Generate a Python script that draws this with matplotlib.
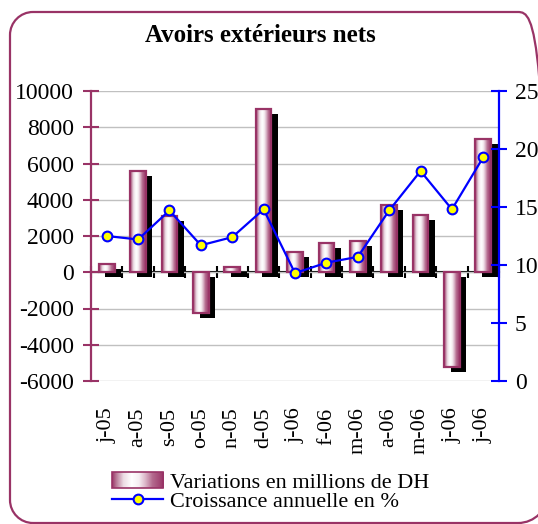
import numpy as np
import matplotlib
matplotlib.use("Agg")
import matplotlib.pyplot as plt
from matplotlib.colors import LinearSegmentedColormap
from matplotlib.transforms import ScaledTranslation, Bbox, TransformedBbox
from matplotlib.patches import Rectangle, PathPatch
from matplotlib.path import Path
from matplotlib.lines import Line2D
from matplotlib.image import BboxImage
from matplotlib.legend_handler import HandlerBase

categories = ["j-05", "a-05", "s-05", "o-05", "n-05", "d-05", "j-06",
              "f-06", "m-06", "a-06", "m-06", "j-06", "j-06"]
variations = [450, 5600, 3100, -2250, 300, 9000, 1100,
              1630, 1740, 3730, 3175, -5250, 7350]
croissance = [12.5, 12.2, 14.7, 11.7, 12.4, 14.8, 9.3,
              10.2, 10.7, 14.7, 18.1, 14.8, 19.3]
left_ticks = [-6000, -4000, -2000, 0, 2000, 4000, 6000, 8000, 10000]
right_ticks = [0, 5, 10, 15, 20, 25]

MAROON = "#993366"
BLUE = "#0000ff"
plt.rcParams["font.family"] = ["Liberation Serif", "DejaVu Serif"]

cmap = LinearSegmentedColormap.from_list(
    "bar", [(0.0, MAROON), (0.08, "#b87896"), (0.22, "#ecdce4"),
            (0.38, "#ffffff"), (0.52, "#f6eef2"), (0.64, "#dcb8ca"),
            (0.78, "#b46a8e"), (1.0, MAROON)])
grad = np.linspace(0, 1, 256).reshape(1, -1)

W, H = 538, 524
fig = plt.figure(figsize=(W/100, H/100), dpi=100)
ax = fig.add_axes([91/W, 1-381/H, (499-91)/W, (381-91)/H])

x = np.arange(len(categories))
w = 0.5

# shadows
shadows = ax.bar(x, variations, width=w, color="black", zorder=2, linewidth=0)
off = ScaledTranslation(0.065, -0.05, fig.dpi_scale_trans)
for p in shadows:
    p.set_transform(ax.transData + off)

# gradient bars
bars = ax.bar(x, variations, width=w, facecolor="none", edgecolor=MAROON,
              linewidth=1.6, zorder=4)
for p in bars:
    x0 = p.get_x(); bw = p.get_width(); h = p.get_height(); y0 = p.get_y()
    ax.imshow(grad, cmap=cmap, aspect="auto", zorder=3,
              extent=(x0, x0 + bw, min(y0, y0 + h), max(y0, y0 + h)),
              interpolation="bilinear")

ax.set_xlim(-0.5, len(categories) - 0.5)
ax.set_ylim(-6000, 10000)
ax.set_yticks(left_ticks)
ax.set_yticklabels([str(v) for v in left_ticks])
ax.set_xticks(x)
ax.set_xticklabels(categories, rotation=90)
ax.tick_params(axis="x", length=0, pad=19, labelsize=16)
ax.tick_params(axis="y", direction="inout", length=11, width=1.5,
               color=MAROON, pad=7, labelsize=17)
ax.yaxis.grid(True, color="#c0c0c0", linewidth=1)
ax.set_axisbelow(True)
for s in ["top", "right", "bottom"]:
    ax.spines[s].set_visible(False)
ax.spines["left"].set_color(MAROON)
ax.spines["left"].set_linewidth(1.6)

# zero axis with category boundary ticks
zero_frac = (0 - (-6000)) / (10000 - (-6000))
sec = ax.secondary_xaxis(zero_frac)
sec.set_xticks(np.arange(len(categories) + 1) - 0.5)
sec.tick_params(direction="inout", length=9, width=1.5, color="black",
                labelbottom=False, labeltop=False)
sec.spines["bottom"].set_color("black")
sec.spines["bottom"].set_linewidth(1.5)
sec.spines["bottom"].set_zorder(5)

ax2 = ax.twinx()
ax2.set_ylim(0, 25)
ax2.set_yticks(right_ticks)
ax2.plot(x, croissance, color=BLUE, linewidth=1.6, marker="o",
         markersize=7, markerfacecolor="#ffff00", markeredgecolor=BLUE,
         markeredgewidth=1.5, zorder=6)
ax2.tick_params(axis="y", direction="inout", length=11, width=1.5,
                color=BLUE, pad=6, labelsize=17)
for s in ["top", "left", "bottom"]:
    ax2.spines[s].set_visible(False)
ax2.spines["right"].set_color(BLUE)
ax2.spines["right"].set_linewidth(1.6)

fig.text(260/W, 1-35/H, "Avoirs extérieurs nets", ha="center",
         va="center", fontsize=18, fontweight="bold")

# rounded frame, in pixel units (origin bottom-left); right side runs off
fx0, fx1, fy0, fy1 = 10, 548, 1, 512
rl, rr = 23, 30
kl, kr = 0.5523 * rl, 0.5523 * rr
verts = [(fx0 + rl, fy0), (fx1 - rr, fy0),
         (fx1 - rr + kr, fy0), (fx1, fy0 + rr - kr), (fx1, fy0 + rr),
         (fx1, fy1 - rr),
         (fx1, fy1 - rr + kr), (fx1 - rr + kr, fy1), (fx1 - rr, fy1),
         (fx0 + rl, fy1),
         (fx0 + rl - kl, fy1), (fx0, fy1 - rl + kl), (fx0, fy1 - rl),
         (fx0, fy0 + rl),
         (fx0, fy0 + rl - kl), (fx0 + rl - kl, fy0), (fx0 + rl, fy0)]
codes = [Path.MOVETO, Path.LINETO,
         Path.CURVE4, Path.CURVE4, Path.CURVE4,
         Path.LINETO,
         Path.CURVE4, Path.CURVE4, Path.CURVE4,
         Path.LINETO,
         Path.CURVE4, Path.CURVE4, Path.CURVE4,
         Path.LINETO,
         Path.CURVE4, Path.CURVE4, Path.CURVE4]
frame = PathPatch(Path([(a/100, b/100) for a, b in verts], codes),
                  transform=fig.dpi_scale_trans, facecolor="none",
                  edgecolor=MAROON, linewidth=1.6, clip_on=False)
fig.add_artist(frame)


class GradHandler(HandlerBase):
    def create_artists(self, legend, orig_handle, xdescent, ydescent,
                       width, height, fontsize, trans):
        bb = TransformedBbox(Bbox.from_bounds(-xdescent, -ydescent,
                                              width, height), trans)
        img = BboxImage(bb, cmap=cmap, interpolation="bilinear")
        img.set_data(grad)
        rect = Rectangle((-xdescent, -ydescent), width, height,
                         facecolor="none", edgecolor=MAROON, linewidth=1.2,
                         transform=trans)
        return [img, rect]


bar_handle = Rectangle((0, 0), 1, 1)
line_handle = Line2D([], [], color=BLUE, linewidth=1.6, marker="o",
                     markersize=7, markerfacecolor="#ffff00",
                     markeredgecolor=BLUE, markeredgewidth=1.5)
fig.legend([bar_handle, line_handle],
           ["Variations en millions de DH", "Croissance annuelle en %"],
           handler_map={Rectangle: GradHandler()},
           loc="upper left", bbox_to_anchor=(112/W, 1-472/H),
           frameon=False, borderpad=0, borderaxespad=0, fontsize=16,
           handlelength=2.3, handletextpad=0.3, labelspacing=-0.05,
           handleheight=0.7)

fig.savefig("out.png", dpi=100)
